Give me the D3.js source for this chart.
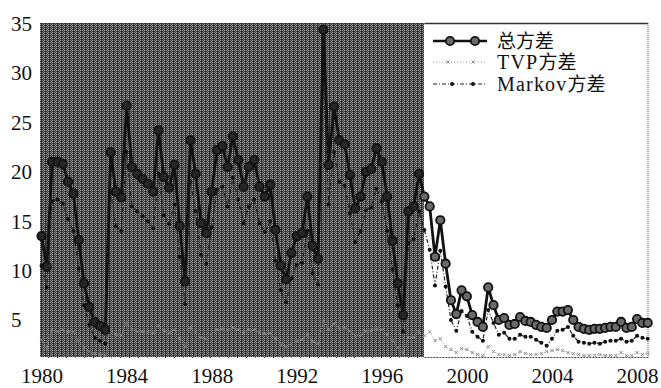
<!DOCTYPE html>
<html><head><meta charset="utf-8">
<script src="https://cdn.jsdelivr.net/npm/d3@7"></script>
<style>html,body{margin:0;padding:0;background:#fff;}</style>
</head><body>
<svg id="chart" width="661" height="388"></svg>
<script>
// ---- data (quarterly, 1980Q1 .. 2008Q3) ----
const startYear = 1980;
const totalVar = [
  13.5,10.4,21.0,21.0, 20.8,19.0,17.8,13.1, 8.7,6.3,4.8,4.4, 4.0,22.0,18.0,17.4,
  26.7,20.5,19.8,19.3, 18.8,18.0,24.2,19.5, 18.4,20.7,14.5,8.9, 23.2,19.8,14.8,13.8,
  18.0,22.2,22.6,20.5, 23.6,21.2,18.5,20.5, 21.2,18.5,17.5,18.7, 14.1,10.5,9.1,11.8,
  13.5,13.8,17.5,12.5, 11.2,34.4,20.7,26.6, 23.2,22.8,19.7,16.3, 17.5,20.0,20.3,22.4,
  21.0,17.5,13.0,8.7, 5.5,16.0,16.5,19.8, 17.5,16.5,11.4,15.1, 10.7,7.0,5.6,8.0,
  7.4,5.5,4.8,4.3, 8.3,6.5,5.0,5.2, 4.5,4.6,5.3,4.9, 4.8,4.5,4.3,4.2,
  5.0,5.85,5.85,6.0, 5.0,4.3,4.1,4.0, 4.1,4.1,4.2,4.3, 4.3,4.8,4.2,4.3,
  5.1,4.7,4.7
];
const tvpVar = [
  3.0,2.1,4.0,3.8, 4.0,3.8,3.8,2.9, 2.2,1.8,1.6,1.5, 1.4,4.0,3.5,3.4,
  4.7,4.0,3.8,3.8, 3.8,3.7,4.4,3.9, 3.7,4.0,3.1,2.3, 4.2,3.8,3.2,3.1,
  3.6,4.0,4.1,4.0, 4.2,4.0,3.7,4.0, 4.0,3.7,3.6,3.7, 3.1,2.5,2.3,2.6,
  2.9,3.0,3.5,2.8, 2.6,4.9,4.0,4.6, 4.2,4.2,3.9,3.4, 3.5,3.9,3.9,4.1,
  4.0,3.5,2.9,2.2, 1.7,3.2,3.3,3.8, 3.4,3.8,2.9,3.1, 2.3,2.0,1.7,2.1,
  2.0,1.7,1.5,1.4, 2.3,1.8,1.5,1.5, 1.4,1.5,1.8,1.6, 1.5,1.5,1.6,1.8,
  1.9,2.0,1.9,1.7, 1.6,1.5,1.4,1.4, 1.4,1.5,1.4,1.4, 1.4,1.7,1.4,1.4,
  1.7,1.5,1.6
];
const markovVar = [
  10.5,8.3,17.0,17.2, 16.8,15.2,14.0,10.2, 6.5,4.5,3.2,2.9, 2.6,18.0,14.5,14.0,
  22.0,16.5,16.0,15.5, 15.0,14.3,19.8,15.6, 14.7,16.7,11.4,6.6, 19.0,16.0,11.6,10.7,
  14.4,18.2,18.5,16.5, 19.4,17.2,14.8,16.5, 17.2,14.8,13.9,15.0, 11.0,8.0,6.8,9.2,
  10.6,10.8,14.0,9.7, 8.6,29.5,16.7,22.0, 19.0,18.6,15.8,12.9, 14.0,16.1,16.4,18.3,
  17.0,14.0,10.1,6.5, 3.8,12.8,13.2,16.0, 14.1,12.1,8.5,12.0, 8.4,5.0,3.9,5.9,
  5.4,3.8,3.3,2.9, 6.0,4.7,3.5,3.7, 3.1,3.1,3.5,3.3, 3.3,3.0,2.7,2.4,
  3.1,3.9,4.0,4.3, 3.4,2.8,2.7,2.6, 2.7,2.6,2.8,2.9, 2.9,3.1,2.8,2.9,
  3.4,3.2,3.1
];
const xTickLabels = [1980,1984,1988,1992,1996,2000,2004,2008];
const yTickLabels = [5,10,15,20,25,30,35];
const shadeRange = [1980, 1998];
const legendLabels = [["总方差"],["TVP","方差"],["Markov","方差"]];

// ---- layout ----
const svg = d3.select("#chart");
const x = d3.scaleLinear().domain([1980, 2008.5]).range([41.5, 647.7]);
const y = d3.scaleLinear().domain([1.15, 35]).range([358, 23.7]);
const dates = totalVar.map((_, i) => startYear + i * 0.25);

// dithered shading pattern
const defs = svg.append("defs");
const pat = defs.append("pattern").attr("id","dith").attr("patternUnits","userSpaceOnUse")
  .attr("width",4).attr("height",4);
pat.append("rect").attr("width",4).attr("height",4).attr("fill","#3c3c3c");
[[0,0,"#a0a0a0"],[2,0,"#7a7a7a"],[1,1,"#1a1a1a"],[3,1,"#8c8c8c"],[0,2,"#b0b0b0"],[2,2,"#909090"],[1,3,"#222"],[3,3,"#6a6a6a"]]
  .forEach(([px,py,c]) => pat.append("rect").attr("x",px).attr("y",py).attr("width",1).attr("height",1).attr("fill",c));

const pTop = 23, pBottom = 358, pLeft = 40, pRight = 648;
svg.append("rect").attr("x", pLeft).attr("y", pTop)
  .attr("width", x(shadeRange[1]) - pLeft).attr("height", pBottom - pTop)
  .attr("fill", "url(#dith)").attr("shape-rendering","crispEdges");

// frame (white region)
svg.append("line").attr("x1", x(shadeRange[1])).attr("x2", pRight).attr("y1", pTop+0.5).attr("y2", pTop+0.5)
  .attr("stroke","#333").attr("stroke-width",1.5);
svg.append("line").attr("x1", pRight).attr("x2", pRight).attr("y1", pTop).attr("y2", pBottom)
  .attr("stroke","#555").attr("stroke-width",1).attr("stroke-dasharray","1,1");
svg.append("line").attr("x1", x(shadeRange[1])).attr("x2", pRight).attr("y1", pBottom-0.5).attr("y2", pBottom-0.5)
  .attr("stroke","#444").attr("stroke-width",1).attr("stroke-dasharray","2,1");
svg.append("line").attr("x1", pLeft).attr("x2", x(shadeRange[1])).attr("y1", pBottom-0.5).attr("y2", pBottom-0.5)
  .attr("stroke","#eee").attr("stroke-width",1).attr("stroke-dasharray","8,1");

// axes
const fontSerif = "'Liberation Serif','Times New Roman',serif";
const xAxis = d3.axisBottom(x).tickValues(xTickLabels).tickFormat(d3.format("d")).tickSize(0).tickPadding(0);
const gx = svg.append("g").attr("transform", `translate(0,${pBottom})`).call(xAxis);
gx.select(".domain").remove();
gx.selectAll("text").attr("font-family", fontSerif).attr("font-size", 21).attr("fill","#111")
  .attr("dy", null).attr("y", 25);

const gy = svg.append("g");
gy.selectAll("text").data(yTickLabels).join("text")
  .attr("x", 11).attr("y", d => y(d)).attr("dy","0.35em")
  .attr("font-family", fontSerif).attr("font-size", 21).attr("fill","#111").text(d => d);

// lines
const line = vals => d3.line().x((d,i)=>x(dates[i])).y(d=>y(d))(vals);

// TVP
svg.append("path").attr("d", line(tvpVar)).attr("fill","none").attr("stroke","#999")
  .attr("stroke-width",1).attr("stroke-dasharray","1,2");
svg.append("g").selectAll("path").data(tvpVar).join("path")
  .attr("transform",(d,i)=>`translate(${x(dates[i])},${y(d)})`)
  .attr("d","M-1.5,-1.5L1.5,1.5M-1.5,1.5L1.5,-1.5").attr("stroke","#888").attr("stroke-width",1);

// Markov
svg.append("path").attr("d", line(markovVar)).attr("fill","none").attr("stroke","#222")
  .attr("stroke-width",1.2).attr("stroke-dasharray","4,2,1,2");
svg.append("g").selectAll("circle").data(markovVar).join("circle")
  .attr("cx",(d,i)=>x(dates[i])).attr("cy",d=>y(d)).attr("r",2).attr("fill","#111");

// Total
svg.append("path").attr("d", line(totalVar)).attr("fill","none").attr("stroke","#111")
  .attr("stroke-width",2.8).attr("stroke-linejoin","round");
svg.append("g").selectAll("circle").data(totalVar).join("circle")
  .attr("cx",(d,i)=>x(dates[i])).attr("cy",d=>y(d)).attr("r",4.2)
  .attr("fill",(d,i)=> dates[i] < shadeRange[1] ? "#262626" : "#6a6a6a")
  .attr("stroke","#111").attr("stroke-width",1.8);

// legend
const lg = svg.append("g");
const lx0 = 433, lx1 = 487, ly = [41, 62, 84], tx = 497;
lg.append("line").attr("x1",lx0).attr("x2",lx1).attr("y1",ly[0]).attr("y2",ly[0]).attr("stroke","#111").attr("stroke-width",2.4);
[450,475].forEach(cx => lg.append("circle").attr("cx",cx).attr("cy",ly[0]).attr("r",4.2)
  .attr("fill","#6a6a6a").attr("stroke","#111").attr("stroke-width",1.8));
lg.append("line").attr("x1",lx0).attr("x2",lx1).attr("y1",ly[1]).attr("y2",ly[1]).attr("stroke","#999").attr("stroke-width",1).attr("stroke-dasharray","1,2");
[448,473].forEach(cx => lg.append("path").attr("transform",`translate(${cx},${ly[1]})`)
  .attr("d","M-1.5,-1.5L1.5,1.5M-1.5,1.5L1.5,-1.5").attr("stroke","#888").attr("stroke-width",1));
lg.append("line").attr("x1",lx0).attr("x2",lx1).attr("y1",ly[2]).attr("y2",ly[2]).attr("stroke","#222").attr("stroke-width",1.2).attr("stroke-dasharray","4,2,1,2");
[452,473].forEach(cx => lg.append("circle").attr("cx",cx).attr("cy",ly[2]).attr("r",2).attr("fill","#111"));

legendLabels.forEach((parts, k) => {
  const t = lg.append("text").attr("x", tx).attr("y", ly[k]).attr("dy","0.35em")
    .attr("font-size", 19).attr("fill","#111");
  parts.forEach(p => {
    const latin = /^[A-Za-z]+$/.test(p);
    const ts = t.append("tspan").attr("font-family", latin ? fontSerif : "'Noto Sans CJK SC',sans-serif").text(p);
    if (latin) ts.attr("font-size", 20).attr("letter-spacing", 1.2);
  });
});
</script>
</body></html>
